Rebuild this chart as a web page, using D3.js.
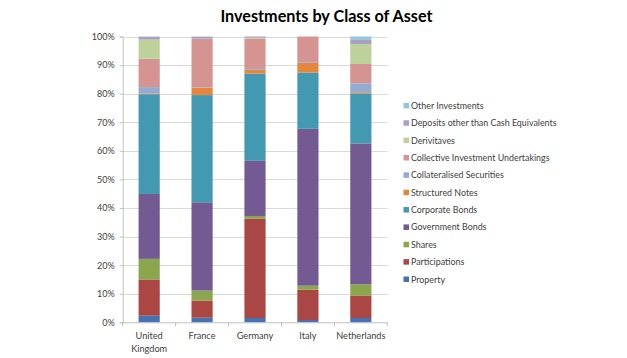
<!DOCTYPE html>
<html><head><meta charset="utf-8">
<script src="https://cdn.jsdelivr.net/npm/d3@7"></script>
<style>body{margin:0;background:#fff;} svg{display:block;} text{font-family:Lato,"Open Sans",sans-serif;}</style>
</head><body><svg id="c" width="627" height="358"></svg>
<script>
const countries = ["United Kingdom","France","Germany","Italy","Netherlands"];
const seriesNames = ["Property","Participations","Shares","Government Bonds","Corporate Bonds","Structured Notes","Collateralised Securities","Collective Investment Undertakings","Derivitaves","Deposits other than Cash Equivalents","Other Investments"];
const property       = [2.3, 1.6, 1.5, 0.8, 1.5];
const participations = [12.7, 6.0, 34.8, 10.6, 7.9];
const shares         = [7.2, 3.5, 0.9, 1.4, 3.9];
const govBonds       = [22.7, 30.9, 19.3, 54.9, 49.3];
const corpBonds      = [34.9, 37.5, 30.5, 19.7, 17.5];
const structured     = [0.3, 2.5, 1.5, 3.4, 0.4];
const collateralised = [2.2, 0.2, 0.5, 0.3, 3.1];
const ciu            = [9.9, 16.9, 10.3, 8.9, 6.8];
const derivatives    = [6.7, 0.1, 0.3, 0.0, 6.9];
const deposits       = [1.0, 0.6, 0.4, 0.0, 1.5];
const other          = [0.1, 0.2, 0.0, 0.0, 1.2];
const yTicks = [0,10,20,30,40,50,60,70,80,90,100];
const colors = ["#4572B2","#AA4643","#8AA74E","#735A93","#4299B1","#E5863C","#93AAD3","#D59391","#BCD29A","#ACA0C2","#92C6D8"];

const seriesVals = [property,participations,shares,govBonds,corpBonds,structured,collateralised,ciu,derivatives,deposits,other];
const rows = countries.map((c,i)=>{const r={country:c}; seriesNames.forEach((s,j)=>r[s]=seriesVals[j][i]); return r;});
rows.forEach(r=>{const t=d3.sum(seriesNames,s=>r[s]); seriesNames.forEach(s=>r[s]=r[s]/t*100);});

const svg = d3.select("#c");
const pL=122.7, pR=387.3, pT=36.5, pB=322.3;
const x = d3.scaleBand().domain(countries).range([pL,pR]).paddingInner(0.6).paddingOuter(0.3);
const y = d3.scaleLinear().domain([0,100]).range([pB,pT]);
const stack = d3.stack().keys(seriesNames)(rows);

svg.append("text").attr("x",326.5).attr("y",22).attr("text-anchor","middle")
  .attr("font-size",16.2).attr("font-weight","bold").attr("fill","#000").text("Investments by Class of Asset");

svg.append("g").selectAll("line").data(yTicks.slice(1)).join("line")
  .attr("x1",pL).attr("x2",pR).attr("y1",d=>Math.round(y(d))+0.5).attr("y2",d=>Math.round(y(d))+0.5)
  .attr("stroke","#d9d9d9").attr("stroke-width",1);

svg.append("g").selectAll("g").data(stack).join("g").attr("fill",(d,i)=>colors[i])
  .selectAll("rect").data(d=>d).join("rect")
  .attr("x",d=>x(d.data.country)).attr("width",x.bandwidth())
  .attr("y",d=>y(d[1])).attr("height",d=>Math.max(0,y(d[0])-y(d[1])));

const ya = d3.axisLeft(y).tickValues(yTicks).tickFormat(d=>d+"%").tickSize(3).tickPadding(5);
const gy = svg.append("g").attr("transform",`translate(${pL},0)`).call(ya);
gy.select(".domain").attr("stroke","#bfbfbf");
gy.selectAll(".tick line").attr("stroke","#bfbfbf");
gy.selectAll("text").attr("font-size",9).attr("fill","#404040").attr("font-family","Lato");

const gx = svg.append("g").attr("transform",`translate(0,${pB})`);
gx.append("line").attr("x1",pL).attr("x2",pR).attr("y1",0.5).attr("y2",0.5).attr("stroke","#bfbfbf");
const step = (pR-pL)/countries.length;
gx.selectAll(".tk").data(d3.range(countries.length+1)).join("line").attr("class","tk")
  .attr("x1",i=>pL+i*step).attr("x2",i=>pL+i*step).attr("y1",0).attr("y2",4).attr("stroke","#bfbfbf");
const lbl = gx.selectAll(".lb").data(countries).join("text").attr("class","lb")
  .attr("x",d=>x(d)+x.bandwidth()/2).attr("y",17).attr("text-anchor","middle")
  .attr("font-size",9.2).attr("fill","#404040");
lbl.each(function(d){
  const t=d3.select(this);
  const parts = d==="United Kingdom" ? ["United","Kingdom"] : [d];
  parts.forEach((p,k)=>t.append("tspan").attr("x",x(d)+x.bandwidth()/2).attr("dy",k?12.5:0).attr("fill","#404040").text(p));
});

const lg = svg.append("g");
const order = seriesNames.map((s,i)=>i).reverse();
order.forEach((si,k)=>{
  const cy = 105.7 + k*17.36;
  lg.append("rect").attr("x",403.5).attr("y",cy-2.8).attr("width",5.5).attr("height",5.5).attr("fill",colors[si]);
  lg.append("text").attr("x",411).attr("y",cy+3.2).attr("font-size",8.9).attr("fill","#404040").text(seriesNames[si]);
});
</script></body></html>
